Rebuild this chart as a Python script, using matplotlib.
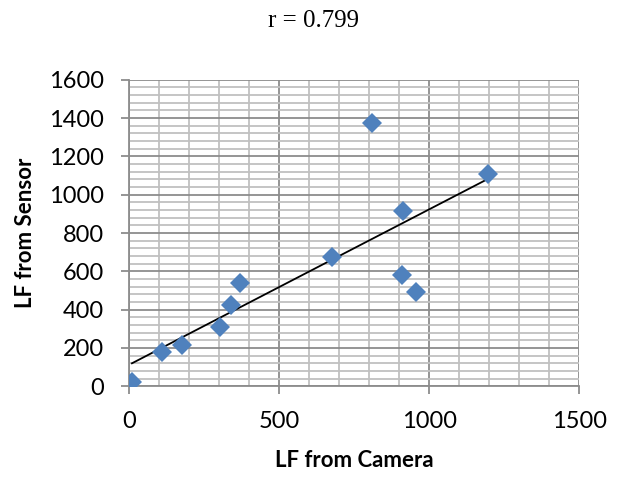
import matplotlib.pyplot as plt
import numpy as np
from matplotlib.ticker import MultipleLocator

# LF counts per sample: camera vs. sensor
camera = [10, 110, 176, 303, 339, 370, 678, 809, 912, 911, 957, 1198]
sensor = [20, 180, 215, 310, 424, 537, 674, 1375, 916, 581, 494, 1110]

x_ticks = [0, 500, 1000, 1500]
y_ticks = [0, 200, 400, 600, 800, 1000, 1200, 1400, 1600]

fig = plt.figure(figsize=(6.26, 4.78), dpi=100)
ax = fig.add_axes([0.206, 0.192, 0.719, 0.641])

# least-squares trend line over the camera range
slope, intercept = np.polyfit(camera, sensor, 1)
xs = np.array([min(camera), max(camera)])
ax.plot(xs, slope * xs + intercept, color='black', lw=1.3, zorder=3)

ax.plot(camera, sensor, 'D', color='#4F81BD', markersize=10,
        markeredgewidth=0, zorder=4)

ax.set_xlim(0, 1500)
ax.set_ylim(0, 1600)
ax.set_xticks(x_ticks)
ax.set_yticks(y_ticks)
ax.xaxis.set_minor_locator(MultipleLocator(100))
ax.yaxis.set_minor_locator(MultipleLocator(40))

ax.grid(which='major', color='#8C8C8C', lw=1.3)
ax.grid(which='minor', color='#C0C0C0', lw=1.3)
ax.set_axisbelow(True)

for side in ['top', 'right']:
    ax.spines[side].set_visible(False)
for side in ['left', 'bottom']:
    ax.spines[side].set_color('#8C8C8C')
    ax.spines[side].set_linewidth(1.3)

ax.tick_params(which='major', length=6, width=1.3, color='#8C8C8C',
               labelsize=17)
ax.tick_params(axis='y', pad=12)
ax.tick_params(axis='x', pad=12)
ax.tick_params(which='minor', length=0)
for lbl in ax.get_xticklabels() + ax.get_yticklabels():
    lbl.set_fontfamily('Lato')

ax.set_xlabel('LF from Camera', fontsize=16, fontweight='bold',
              fontfamily='Lato', labelpad=13)
ax.set_ylabel('LF from Sensor', fontsize=16, fontweight='bold',
              fontfamily='Lato', labelpad=9)

fig.text(0.5, 0.957, 'r = 0.799', ha='center', va='center',
         fontsize=18, fontfamily='Liberation Serif')

fig.savefig('out.png', dpi=100)
